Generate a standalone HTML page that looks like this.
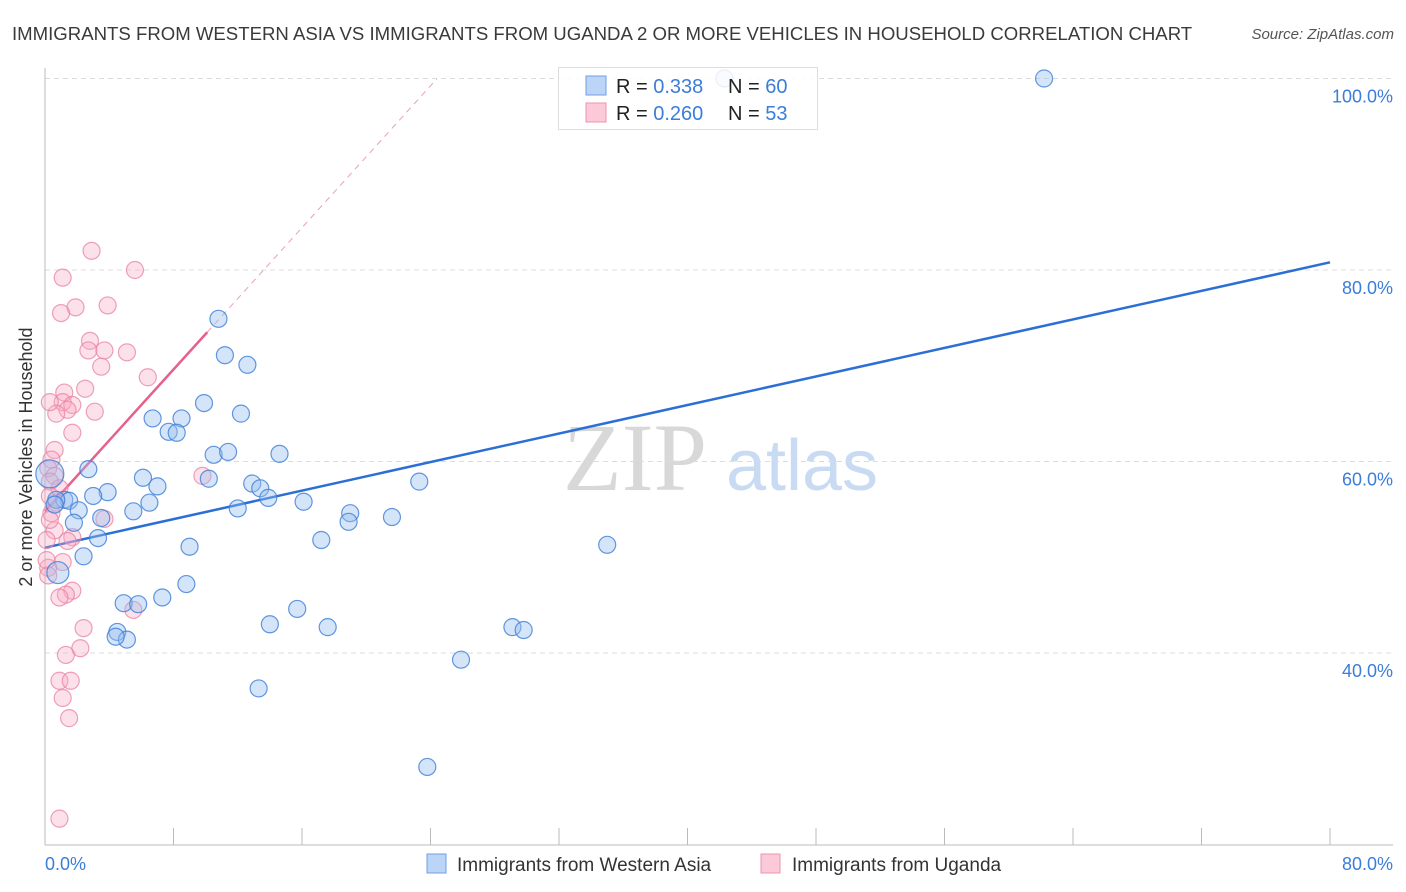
<!DOCTYPE html>
<html><head><meta charset="utf-8">
<style>
body{margin:0;background:#fff;font-family:"Liberation Sans",sans-serif;}
#wrap{position:relative;width:1406px;height:892px;overflow:hidden;}
</style></head>
<body>
<div id="wrap">
<svg id="chart" width="1406" height="892" xmlns="http://www.w3.org/2000/svg">
<text x="12" y="40" font-size="18.6" fill="#3a3a3a">IMMIGRANTS FROM WESTERN ASIA VS IMMIGRANTS FROM UGANDA 2 OR MORE VEHICLES IN HOUSEHOLD CORRELATION CHART</text>
<text x="1394" y="39" font-size="15" fill="#555" font-style="italic" text-anchor="end">Source: ZipAtlas.com</text>
<text x="32" y="457" font-size="18" fill="#333" text-anchor="middle" transform="rotate(-90 32 457)">2 or more Vehicles in Household</text>
<g>
<text x="635" y="490" font-size="96" fill="#d8d8d8" font-family="Liberation Serif" text-anchor="middle">ZIP</text>
<text x="802" y="490" font-size="72" fill="#c9dbf2" text-anchor="middle">atlas</text>
</g>
<g id="grid"></g><g id="axes"></g>
<g id="lines"></g><g id="pts"></g>
<g>
<rect x="558.5" y="67.5" width="259" height="62" fill="#fff" fill-opacity="0.85" stroke="#ddd"/>
<rect x="586" y="76" width="20" height="19" fill="#bcd4f6" stroke="#6fa0e6"/>
<rect x="586" y="103" width="20" height="19" fill="#fcc9d8" stroke="#ee93ae"/>
<text x="616" y="93" font-size="20" fill="#222">R = <tspan fill="#3b7dd8">0.338</tspan></text>
<text x="728" y="93" font-size="20" fill="#222">N = <tspan fill="#3b7dd8">60</tspan></text>
<text x="616" y="120" font-size="20" fill="#222">R = <tspan fill="#3b7dd8">0.260</tspan></text>
<text x="728" y="120" font-size="20" fill="#222">N = <tspan fill="#3b7dd8"> 53</tspan></text>
</g>
<g>
<rect x="427" y="854" width="19" height="19" fill="#bcd4f6" stroke="#6fa0e6"/>
<text x="457" y="871" font-size="19" fill="#333">Immigrants from Western Asia</text>
<rect x="761" y="854" width="19" height="19" fill="#fcc9d8" stroke="#ee93ae"/>
<text x="792" y="871" font-size="19" fill="#333">Immigrants from Uganda</text>
</g>
</svg>
</div>
<script>
const blueX=[10.8,11.2,12.6,9.9,6.7,8.5,12.2,7.7,8.2,10.5,11.4,14.6,2.7,6.1,7.0,10.2,12.9,13.4,13.9,3.9,3.0,1.2,1.5,0.7,6.5,12.0,16.1,23.3,2.1,5.5,19.0,18.9,21.6,3.5,1.8,3.3,17.2,9.0,35.0,2.4,0.8,8.8,7.3,4.9,5.8,15.7,14.0,17.6,29.1,29.8,4.5,5.1,4.4,25.9,13.3,23.8,62.2,42.3,0.3,0.6];
const blueY=[74.9,71.1,70.1,66.1,64.5,64.5,65.0,63.1,63.0,60.7,61.0,60.8,59.2,58.3,57.4,58.2,57.7,57.2,56.2,56.8,56.4,56.0,55.9,56.0,55.7,55.1,55.8,57.9,54.9,54.8,54.6,53.7,54.2,54.1,53.6,52.0,51.8,51.1,51.3,50.1,48.4,47.2,45.8,45.2,45.1,44.6,43.0,42.7,42.7,42.4,42.2,41.4,41.7,39.3,36.3,28.1,100.0,100.0,58.7,55.5];
const pinkX=[2.9,5.6,1.1,3.9,1.9,1.0,2.8,2.7,3.7,5.1,3.5,6.4,2.5,1.2,1.1,1.7,1.4,0.7,3.1,1.7,0.3,0.6,0.4,0.2,0.6,0.3,9.8,0.9,0.3,0.7,0.4,3.7,0.6,1.7,1.4,1.1,0.2,2.4,2.2,1.3,0.9,1.6,1.1,1.5,0.9,1.7,1.3,0.9,5.5,0.3,0.1,0.1,0.2];
const pinkY=[82.0,80.0,79.2,76.3,76.1,75.5,72.6,71.6,71.6,71.4,69.9,68.8,67.6,67.2,66.2,65.9,65.4,65.0,65.2,63.0,66.2,61.2,60.2,59.3,58.5,57.9,58.5,57.2,56.4,55.7,54.6,54.0,52.8,52.1,51.7,49.5,48.9,42.6,40.5,39.8,37.1,37.1,35.3,33.2,22.7,46.5,46.1,45.8,44.5,53.9,51.8,49.7,48.1];
const yTicks=[40,60,80,100];
const yTickLabels=["40.0%","60.0%","80.0%","100.0%"];
const blueTrend=[0,51.0,80,80.8];
const pinkTrend=[0,54.8,10.1,73.5];
const pinkDashEnd=24.4;
const bigBlue=[[0.3,58.7,14],[0.8,48.4,11]];

const NS="http://www.w3.org/2000/svg";
const sx=v=>45+v*1285/80;
const sy=v=>653-(v-40)*9.575;
function mk(tag,attrs,parent){const e=document.createElementNS(NS,tag);for(const k in attrs)e.setAttribute(k,attrs[k]);parent.appendChild(e);return e;}
const grid=document.getElementById('grid'),axes=document.getElementById('axes'),lines=document.getElementById('lines'),pts=document.getElementById('pts');
yTicks.forEach((t,i)=>{
  const l=mk('line',{x1:45,x2:1393,y1:sy(t),y2:sy(t),stroke:'#dcdcdc','stroke-dasharray':'5,4'},grid);
  
  
  const tx=mk('text',{x:1393,y:sy(t)+24,'font-size':18,fill:'#3b7dd8','text-anchor':'end'},grid);
  tx.textContent=yTickLabels[i];
  
  
});
const ya=mk('line',{x1:45,x2:45,y1:68,y2:845,stroke:'#bbb'},axes);


const xa=mk('line',{x1:45,x2:1393,y1:845,y2:845,stroke:'#bbb'},axes);


for(let v=0;v<=80;v+=8){
  const t=mk('line',{x1:sx(v),x2:sx(v),y1:828,y2:845,stroke:'#bbb'},axes);
  
  
}
[[0,'0.0%','start',45],[80,'80.0%','end',1393]].forEach(a=>{
  const t=mk('text',{x:a[3],y:870,'font-size':18,fill:'#3b7dd8','text-anchor':a[2]},axes);
  t.textContent=a[1];
  
  
});
const bl=mk('line',{x1:sx(blueTrend[0]),y1:sy(blueTrend[1]),x2:sx(blueTrend[2]),y2:sy(blueTrend[3]),stroke:'#2a6fd6','stroke-width':2.5},lines);


const pslope=(pinkTrend[3]-pinkTrend[1])/(pinkTrend[2]-pinkTrend[0]);
const pd=mk('line',{x1:sx(pinkTrend[2]),y1:sy(pinkTrend[3]),x2:sx(pinkDashEnd),y2:sy(pinkTrend[1]+pslope*pinkDashEnd),stroke:'#e8a0b6','stroke-width':1,'stroke-dasharray':'6,5'},lines);


const pl=mk('line',{x1:sx(pinkTrend[0]),y1:sy(pinkTrend[1]),x2:sx(pinkTrend[2]),y2:sy(pinkTrend[3]),stroke:'#e5608a','stroke-width':2.5},lines);


pinkX.forEach((x,i)=>{
  const c=mk('circle',{cx:sx(x),cy:sy(pinkY[i]),r:8.5,fill:'rgba(248,170,195,0.35)',stroke:'rgba(232,130,162,0.75)','stroke-width':1.2},pts);
  
  
});
blueX.forEach((x,i)=>{
  let r=8.5;bigBlue.forEach(b=>{if(b[0]===x&&b[1]===blueY[i])r=b[2];});
  const c=mk('circle',{cx:sx(x),cy:sy(blueY[i]),r:r,fill:'rgba(150,190,240,0.4)',stroke:'rgba(60,125,215,0.8)','stroke-width':1.2},pts);
  
  
});
</script>
</body></html>
